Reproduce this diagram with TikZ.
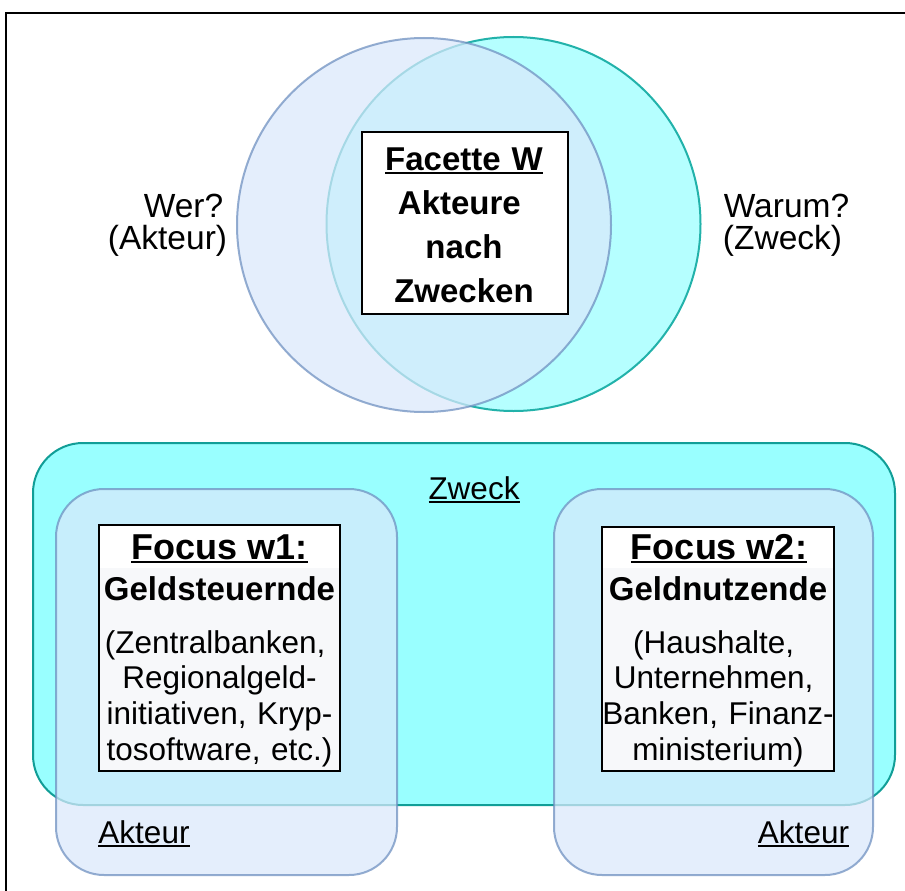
\documentclass[tikz,border=0pt]{standalone}
\usepackage{fontspec}
\setmainfont{Liberation Sans}
\newcommand{\ulx}[1]{\vtop{\hbox{#1}\kern 1.8pt\hrule height 2pt}}
\newcommand{\fsz}[2]{\fontsize{#1}{#2}\selectfont}
\newcommand{\tsp}{\kern0.28em}
\definecolor{akfill}{HTML}{DAE8FC}
\definecolor{akdraw}{HTML}{6C8EBF}
\definecolor{zwfill}{HTML}{99FFFF}
\definecolor{zwdraw}{HTML}{119E97}
\definecolor{zwcircdraw}{HTML}{22B2AA}
\definecolor{focfill}{HTML}{F7F8FA}
\begin{document}
\begin{tikzpicture}[x=1pt,y=-1pt,
  akcircle/.style={circle, minimum size=374pt, inner sep=0pt, outer sep=0pt,
    fill=akfill, draw=akdraw, line width=2pt, opacity=0.72},
  zwcircle/.style={circle, minimum size=374pt, inner sep=0pt, outer sep=0pt,
    fill=zwfill, fill opacity=0.72, draw=zwcircdraw, line width=2pt},
  zwbox/.style={rectangle, rounded corners=50pt, inner sep=0pt, outer sep=0pt,
    fill=zwfill, draw=zwdraw, line width=2pt},
  akbox/.style={rectangle, rounded corners=48pt, inner sep=0pt, outer sep=0pt,
    fill=akfill, draw=akdraw, line width=2pt, opacity=0.72},
  focbox/.style={rectangle, inner sep=0pt, outer sep=0pt,
    fill=focfill, draw=black, line width=2pt},
  facbox/.style={rectangle, inner sep=0pt, outer sep=0pt,
    fill=white, draw=black, line width=2pt},
  lbl/.style={inner sep=0pt, anchor=base, font=\fsz{31.5}{33}},
  qlbl/.style={inner sep=0pt, anchor=base, font=\fsz{33.5}{35}},
  blk/.style={inner sep=0pt, anchor=base, text width=260pt, align=center}
]
\useasboundingbox (0,0) rectangle (905,891);
\fill[white] (0,0) rectangle (905,891);
% frame
\coordinate (frTR) at (905,13);
\coordinate (frTL) at (6,13);
\coordinate (frBL) at (6,891);
\draw[line width=2pt] (frTR) -- (frTL) -- (frBL);

% Venn circles
\node[zwcircle] (zweckcirc) at (513.5,224) {};
\node[akcircle] (akteurcirc) at (424,225) {};
\node[facbox, minimum width=206pt, minimum height=182pt] (facette) at (465,223) {};
\node[blk, text width=220pt, font=\bfseries\fsz{33}{44}] (factext) at (464,170)
  {\ulx{Facette W}\\Akteure\tsp\\nach\\Zwecken};

\node[qlbl] (wer) at (183.5,217) {Wer?};
\node[qlbl] (werakt) at (167.5,249) {(Akteur)};
\node[qlbl] (warum) at (786.5,217) {Warum?};
\node[qlbl] (warumzw) at (782.5,249) {(Zweck)};

% bottom part
\node[zwbox, minimum width=862pt, minimum height=362pt] (zweck) at (464,624) {};
\node[lbl] (zwecklbl) at (474,499) {\ulx{Zweck}};
\node[akbox, minimum width=341pt, minimum height=386pt] (akteur1) at (226.5,682) {};
\node[akbox, minimum width=319pt, minimum height=386pt] (akteur2) at (713.5,682) {};

\node[focbox, minimum width=241pt, minimum height=246pt] (focus1) at (219.5,648) {};
\fill[white] ([shift={(1,1)}]focus1.north west) rectangle ([shift={(-1,0)}]focus1.north east |- 0,568);
\node[focbox, minimum width=232pt, minimum height=244pt] (focus2) at (718,649) {};
\fill[white] ([shift={(1,1)}]focus2.north west) rectangle ([shift={(-1,0)}]focus2.north east |- 0,568);

\node[lbl, font=\bfseries\fsz{36}{40}] (f1title) at (219.5,559) {\ulx{Focus w1:}};
\node[lbl, font=\bfseries\fsz{33}{36}] (f1sub) at (219.5,600) {Geldsteuernde};
\node[blk, font=\fsz{31.5}{35.7}] (f1text) at (219.5,653)
  {(Zentralbanken,\tsp\\Regionalgeld-\\initiativen, Kryp-\\tosoftware, etc.)};

\node[lbl, font=\bfseries\fsz{36}{40}] (f2title) at (719,559) {\ulx{Focus w2:}};
\node[lbl, font=\bfseries\fsz{33}{36}] (f2sub) at (718,600) {Geldnutzende};
\node[blk, font=\fsz{31.5}{35.7}] (f2text) at (718,653)
  {(Haushalte,\tsp\\Unternehmen,\tsp\\Banken, Finanz-\\ministerium)};

\node[lbl] (akt1lbl) at (144,843) {\ulx{Akteur}};
\node[lbl] (akt2lbl) at (803.5,843) {\ulx{Akteur}};
\end{tikzpicture}
\end{document}
